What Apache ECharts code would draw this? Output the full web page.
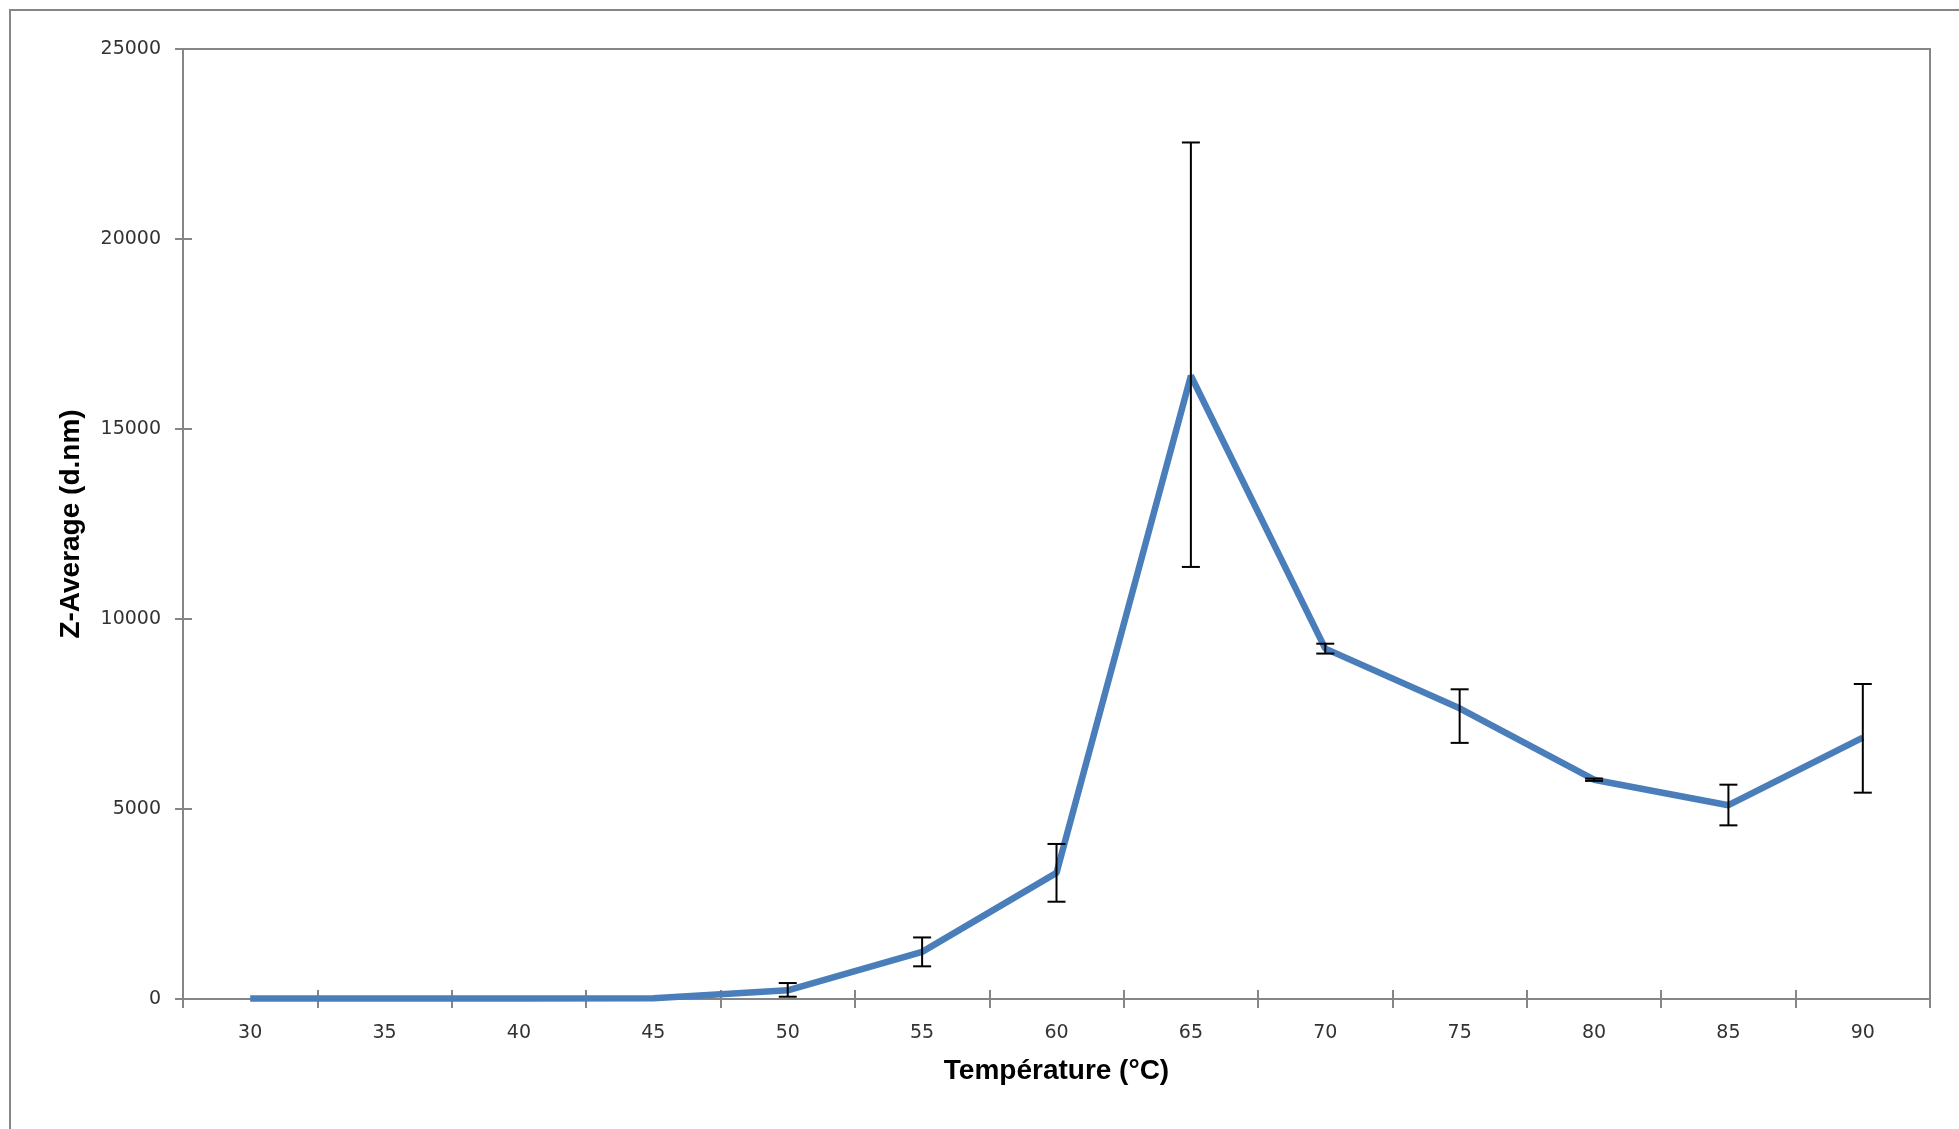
<!DOCTYPE html>
<html>
<head>
<meta charset="utf-8">
<script src="https://cdn.jsdelivr.net/npm/echarts@6/dist/echarts.min.js"></script>
<style>
  html, body { margin: 0; padding: 0; background: #fff; }
  #chart { width: 1959px; height: 1129px; }
</style>
</head>
<body>
<div id="chart"></div>
<script>
// temperatures (°C)
const temperatures = ['30', '35', '40', '45', '50', '55', '60', '65', '70', '75', '80', '85', '90']
// Z-Average (d.nm)
const zAverage = [10, 12, 15, 20, 230, 1240, 3320, 16400, 9220, 7650, 5770, 5100, 6880]
// error bar bounds
const errLow = [10, 12, 15, 20, 60, 860, 2560, 11370, 9090, 6740, 5740, 4570, 5430]
const errHigh = [10, 12, 15, 20, 420, 1620, 4080, 22540, 9350, 8150, 5800, 5640, 8290]
const yTicks = { min: 0, max: 25000, interval: 5000 }

const axisColor = '#868686'
const labelFont = 'DejaVu Sans'

const errorData = temperatures.map((t, i) => [i, errLow[i], errHigh[i]])

const chart = echarts.init(document.getElementById('chart'))

const option = {
  backgroundColor: '#fff',
  animation: false,
  graphic: [
    {
      type: 'rect',
      shape: { x: 10, y: 10, width: 2100, height: 1300 },
      style: { fill: 'none', stroke: axisColor, lineWidth: 2 },
      silent: true,
    },
  ],
  grid: {
    left: 183,
    right: 29,
    top: 49,
    bottom: 130,
    show: true,
    borderColor: axisColor,
    borderWidth: 2,
  },
  xAxis: [
    {
      type: 'category',
      data: temperatures,
      boundaryGap: true,
      name: 'Température (°C)',
      nameLocation: 'middle',
      nameGap: 58,
      nameTextStyle: { fontFamily: 'Liberation Sans', fontWeight: 'bold', fontSize: 28, color: '#000' },
      axisLine: { lineStyle: { color: axisColor, width: 2 } },
      axisTick: { show: true, alignWithLabel: false, length: 9, lineStyle: { color: axisColor, width: 2 } },
      axisLabel: { fontFamily: labelFont, fontSize: 19, color: '#333', margin: 25 },
      splitLine: { show: false },
    },
    {
      // inner half of the crossing ticks
      type: 'category',
      data: temperatures,
      boundaryGap: true,
      position: 'bottom',
      axisLine: { show: false },
      axisTick: { show: true, inside: true, alignWithLabel: false, length: 9, lineStyle: { color: axisColor, width: 2 } },
      axisLabel: { show: false },
      splitLine: { show: false },
    },
  ],
  yAxis: [
    {
      type: 'value',
      min: yTicks.min,
      max: yTicks.max,
      interval: yTicks.interval,
      name: 'Z-Average (d.nm)',
      nameLocation: 'middle',
      nameGap: 98,
      nameTextStyle: { fontFamily: 'Liberation Sans', fontWeight: 'bold', fontSize: 28, color: '#000' },
      axisLine: { show: true, lineStyle: { color: axisColor, width: 2 } },
      axisTick: { show: true, length: 8, lineStyle: { color: axisColor, width: 2 } },
      axisLabel: { fontFamily: labelFont, fontSize: 19, color: '#333', margin: 22, formatter: v => String(v) },
      splitLine: { show: false },
    },
    {
      type: 'value',
      min: yTicks.min,
      max: yTicks.max,
      interval: yTicks.interval,
      position: 'left',
      axisLine: { show: false },
      axisTick: { show: true, inside: true, length: 9, lineStyle: { color: axisColor, width: 2 } },
      axisLabel: { show: false },
      splitLine: { show: false },
    },
  ],
  series: [
    {
      type: 'line',
      data: zAverage,
      symbol: 'none',
      lineStyle: { color: '#4A7EBB', width: 6.5 },
      z: 2,
    },
    {
      type: 'custom',
      data: errorData,
      z: 3,
      renderItem: function (params, api) {
        const idx = api.value(0)
        const low = api.coord([idx, api.value(1)])
        const high = api.coord([idx, api.value(2)])
        if (api.value(2) - api.value(1) <= 0) return null
        const half = 9
        const style = { stroke: '#000', lineWidth: 2 }
        return {
          type: 'group',
          children: [
            { type: 'line', shape: { x1: high[0], y1: high[1], x2: low[0], y2: low[1] }, style },
            { type: 'line', shape: { x1: high[0] - half, y1: high[1], x2: high[0] + half, y2: high[1] }, style },
            { type: 'line', shape: { x1: low[0] - half, y1: low[1], x2: low[0] + half, y2: low[1] }, style },
          ],
        }
      },
    },
  ],
}

chart.setOption(option)
</script>
</body>
</html>
